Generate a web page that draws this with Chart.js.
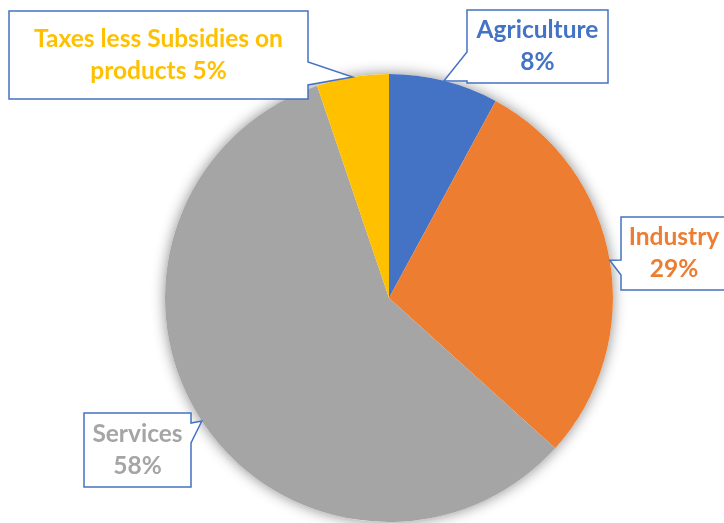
<!DOCTYPE html>
<html>
<head>
<meta charset="utf-8">
<script src="https://cdn.jsdelivr.net/npm/chart.js@4"></script>
<style>
  html, body { margin: 0; padding: 0; background: #fff; }
  #wrap { width: 724px; height: 523px; position: relative; }
</style>
</head>
<body>
<div id="wrap"><canvas id="pie" width="724" height="523"></canvas></div>
<script>
// GDP shares by sector
var sectors = ["Agriculture", "Industry", "Services", "Taxes less Subsidies on products"];
var shares = [7.9, 28.8, 58.1, 5.2];
var shareLabels = ["8%", "29%", "58%", "5%"];
var sliceColors = ["#4472C4", "#ED7D31", "#A5A5A5", "#FFC000"];

// callout boxes: text lines, box rect, side of the pointer and where it leaves the box
var callouts = [
  { lines: ["Agriculture", "8%"], x: 467, y: 10, w: 141, h: 73, side: "left", b0: 52, b1: 81 },
  { lines: ["Industry", "29%"], x: 621, y: 217, w: 106, h: 73, side: "left", b0: 260, b1: 275 },
  { lines: ["Services", "58%"], x: 84, y: 413, w: 107, h: 74, side: "right", b0: 423, b1: 443 },
  { lines: ["Taxes less Subsidies on", "products 5%"], x: 9, y: 11, w: 299, h: 88, side: "right", b0: 62, b1: 85 }
];

var shadowPlugin = {
  id: "pieShadow",
  beforeDatasetsDraw: function(chart) {
    var arc = chart.getDatasetMeta(0).data[0];
    var ctx = chart.ctx;
    ctx.save();
    ctx.shadowColor = "rgba(0,0,0,0.45)";
    ctx.shadowBlur = 14;
    ctx.fillStyle = "#fff";
    ctx.beginPath();
    ctx.arc(arc.x, arc.y, arc.outerRadius, 0, Math.PI * 2);
    ctx.fill();
    ctx.restore();
  }
};

var calloutPlugin = {
  id: "callouts",
  afterDatasetsDraw: function(chart) {
    var ctx = chart.ctx;
    var arcs = chart.getDatasetMeta(0).data;
    ctx.save();
    for (var i = 0; i < callouts.length; i++) {
      var c = callouts[i];
      var a = arcs[i];
      var mid = (a.startAngle + a.endAngle) / 2;
      var tx = a.x + Math.cos(mid) * a.outerRadius;
      var ty = a.y + Math.sin(mid) * a.outerRadius;

      ctx.beginPath();
      ctx.moveTo(c.x, c.y);
      ctx.lineTo(c.x + c.w, c.y);
      if (c.side == "right") {
        ctx.lineTo(c.x + c.w, c.b0);
        ctx.lineTo(tx, ty);
        ctx.lineTo(c.x + c.w, c.b1);
      }
      ctx.lineTo(c.x + c.w, c.y + c.h);
      ctx.lineTo(c.x, c.y + c.h);
      if (c.side == "left") {
        ctx.lineTo(c.x, c.b1);
        ctx.lineTo(tx, ty);
        ctx.lineTo(c.x, c.b0);
      }
      ctx.closePath();
      ctx.fillStyle = "#fff";
      ctx.fill();
      ctx.strokeStyle = "#4472C4";
      ctx.lineWidth = 1.5;
      ctx.stroke();

      ctx.fillStyle = sliceColors[i];
      ctx.font = "bold 24.5px Lato";
      ctx.textAlign = "center";
      ctx.textBaseline = "middle";
      var cx = c.x + c.w / 2;
      var cy = c.y + c.h / 2;
      ctx.fillText(c.lines[0], cx, cy - 16);
      ctx.fillText(c.lines[1], cx, cy + 16);
    }
    ctx.restore();
  }
};

new Chart(document.getElementById("pie"), {
  type: "pie",
  data: {
    labels: sectors,
    datasets: [{
      data: shares,
      backgroundColor: sliceColors,
      borderWidth: 0
    }]
  },
  options: {
    responsive: false,
    animation: false,
    layout: { padding: { top: 74, bottom: 1, left: 165, right: 111 } },
    plugins: {
      legend: { display: false },
      tooltip: { enabled: false }
    }
  },
  plugins: [shadowPlugin, calloutPlugin]
});
</script>
</body>
</html>
